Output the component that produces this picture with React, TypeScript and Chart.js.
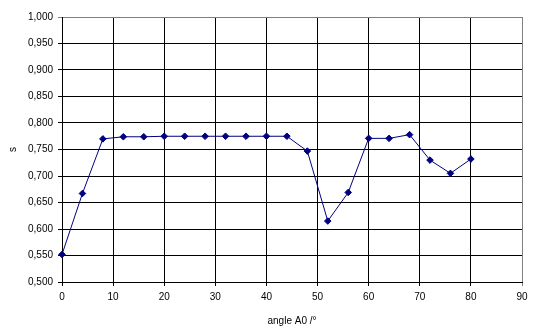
import React, { useEffect, useRef } from "react";
import { Chart, registerables } from "chart.js";

Chart.register(...registerables);

const angles = [0, 4, 8, 12, 16, 20, 24, 28, 32, 36, 40, 44, 48, 52, 56, 60, 64, 68, 72, 76, 80];
const sValues = [0.552, 0.667, 0.770, 0.774, 0.774, 0.775, 0.775, 0.775, 0.775, 0.775, 0.775, 0.775, 0.747, 0.615, 0.669, 0.771, 0.771, 0.778, 0.730, 0.705, 0.732];
const xTitle = "angle A0 /°";
const yTitle = "s";

export default function App() {
  const ref = useRef<HTMLCanvasElement | null>(null);
  useEffect(() => {
    if (!ref.current) return;
    const font = { family: "'Liberation Sans', Arial, sans-serif", size: 10 };
    const chart = new Chart(ref.current, {
      type: "line",
      data: {
        datasets: [
          {
            data: angles.map((a, i) => ({ x: a, y: sValues[i] })),
            borderColor: "#000080",
            backgroundColor: "#000080",
            borderWidth: 1,
            tension: 0,
            clip: false,
            pointStyle: "rectRot",
            pointRadius: 3.3,
            pointBorderWidth: 1,
            pointBorderColor: "#000080",
            pointBackgroundColor: "#000080",
          },
        ],
      },
      options: {
        responsive: false,
        animation: false,
        layout: { padding: { top: 17, right: 15, left: 0, bottom: 0 } },
        plugins: { legend: { display: false }, tooltip: { enabled: false } },
        scales: {
          x: {
            type: "linear",
            min: 0,
            max: 90,
            ticks: { stepSize: 10, color: "#000", font, padding: 5 },
            grid: {
              color: (c: any) => (c.tick && c.tick.value === 90 ? "#808080" : "#000"),
              lineWidth: 1,
              tickLength: 4,
            },
            border: { color: "#000" },
            title: { display: true, text: xTitle, color: "#000", font, padding: { top: 0, bottom: 6 } },
            afterFit: (s: any) => {
              s.height = 51;
            },
          },
          y: {
            min: 0.5,
            max: 1.0,
            ticks: {
              stepSize: 0.05,
              color: "#000",
              font,
              padding: 5,
              callback: (v: any) => Number(v).toFixed(3).replace(".", ","),
            },
            grid: {
              color: (c: any) => (c.tick && Math.abs(c.tick.value - 1) < 1e-6 ? "#808080" : "#000"),
              lineWidth: 1,
              tickLength: 4,
            },
            border: { color: "#000" },
            title: { display: true, text: yTitle, color: "#000", font, padding: { top: 7, bottom: 0 } },
            afterFit: (s: any) => {
              s.width = 62;
            },
          },
        },
      },
    });
    return () => chart.destroy();
  }, []);
  return (
    <div style={{ position: "absolute", left: 0, top: 0, width: 537, height: 333, background: "#fff" }}>
      <canvas ref={ref} width={537} height={333} />
    </div>
  );
}
